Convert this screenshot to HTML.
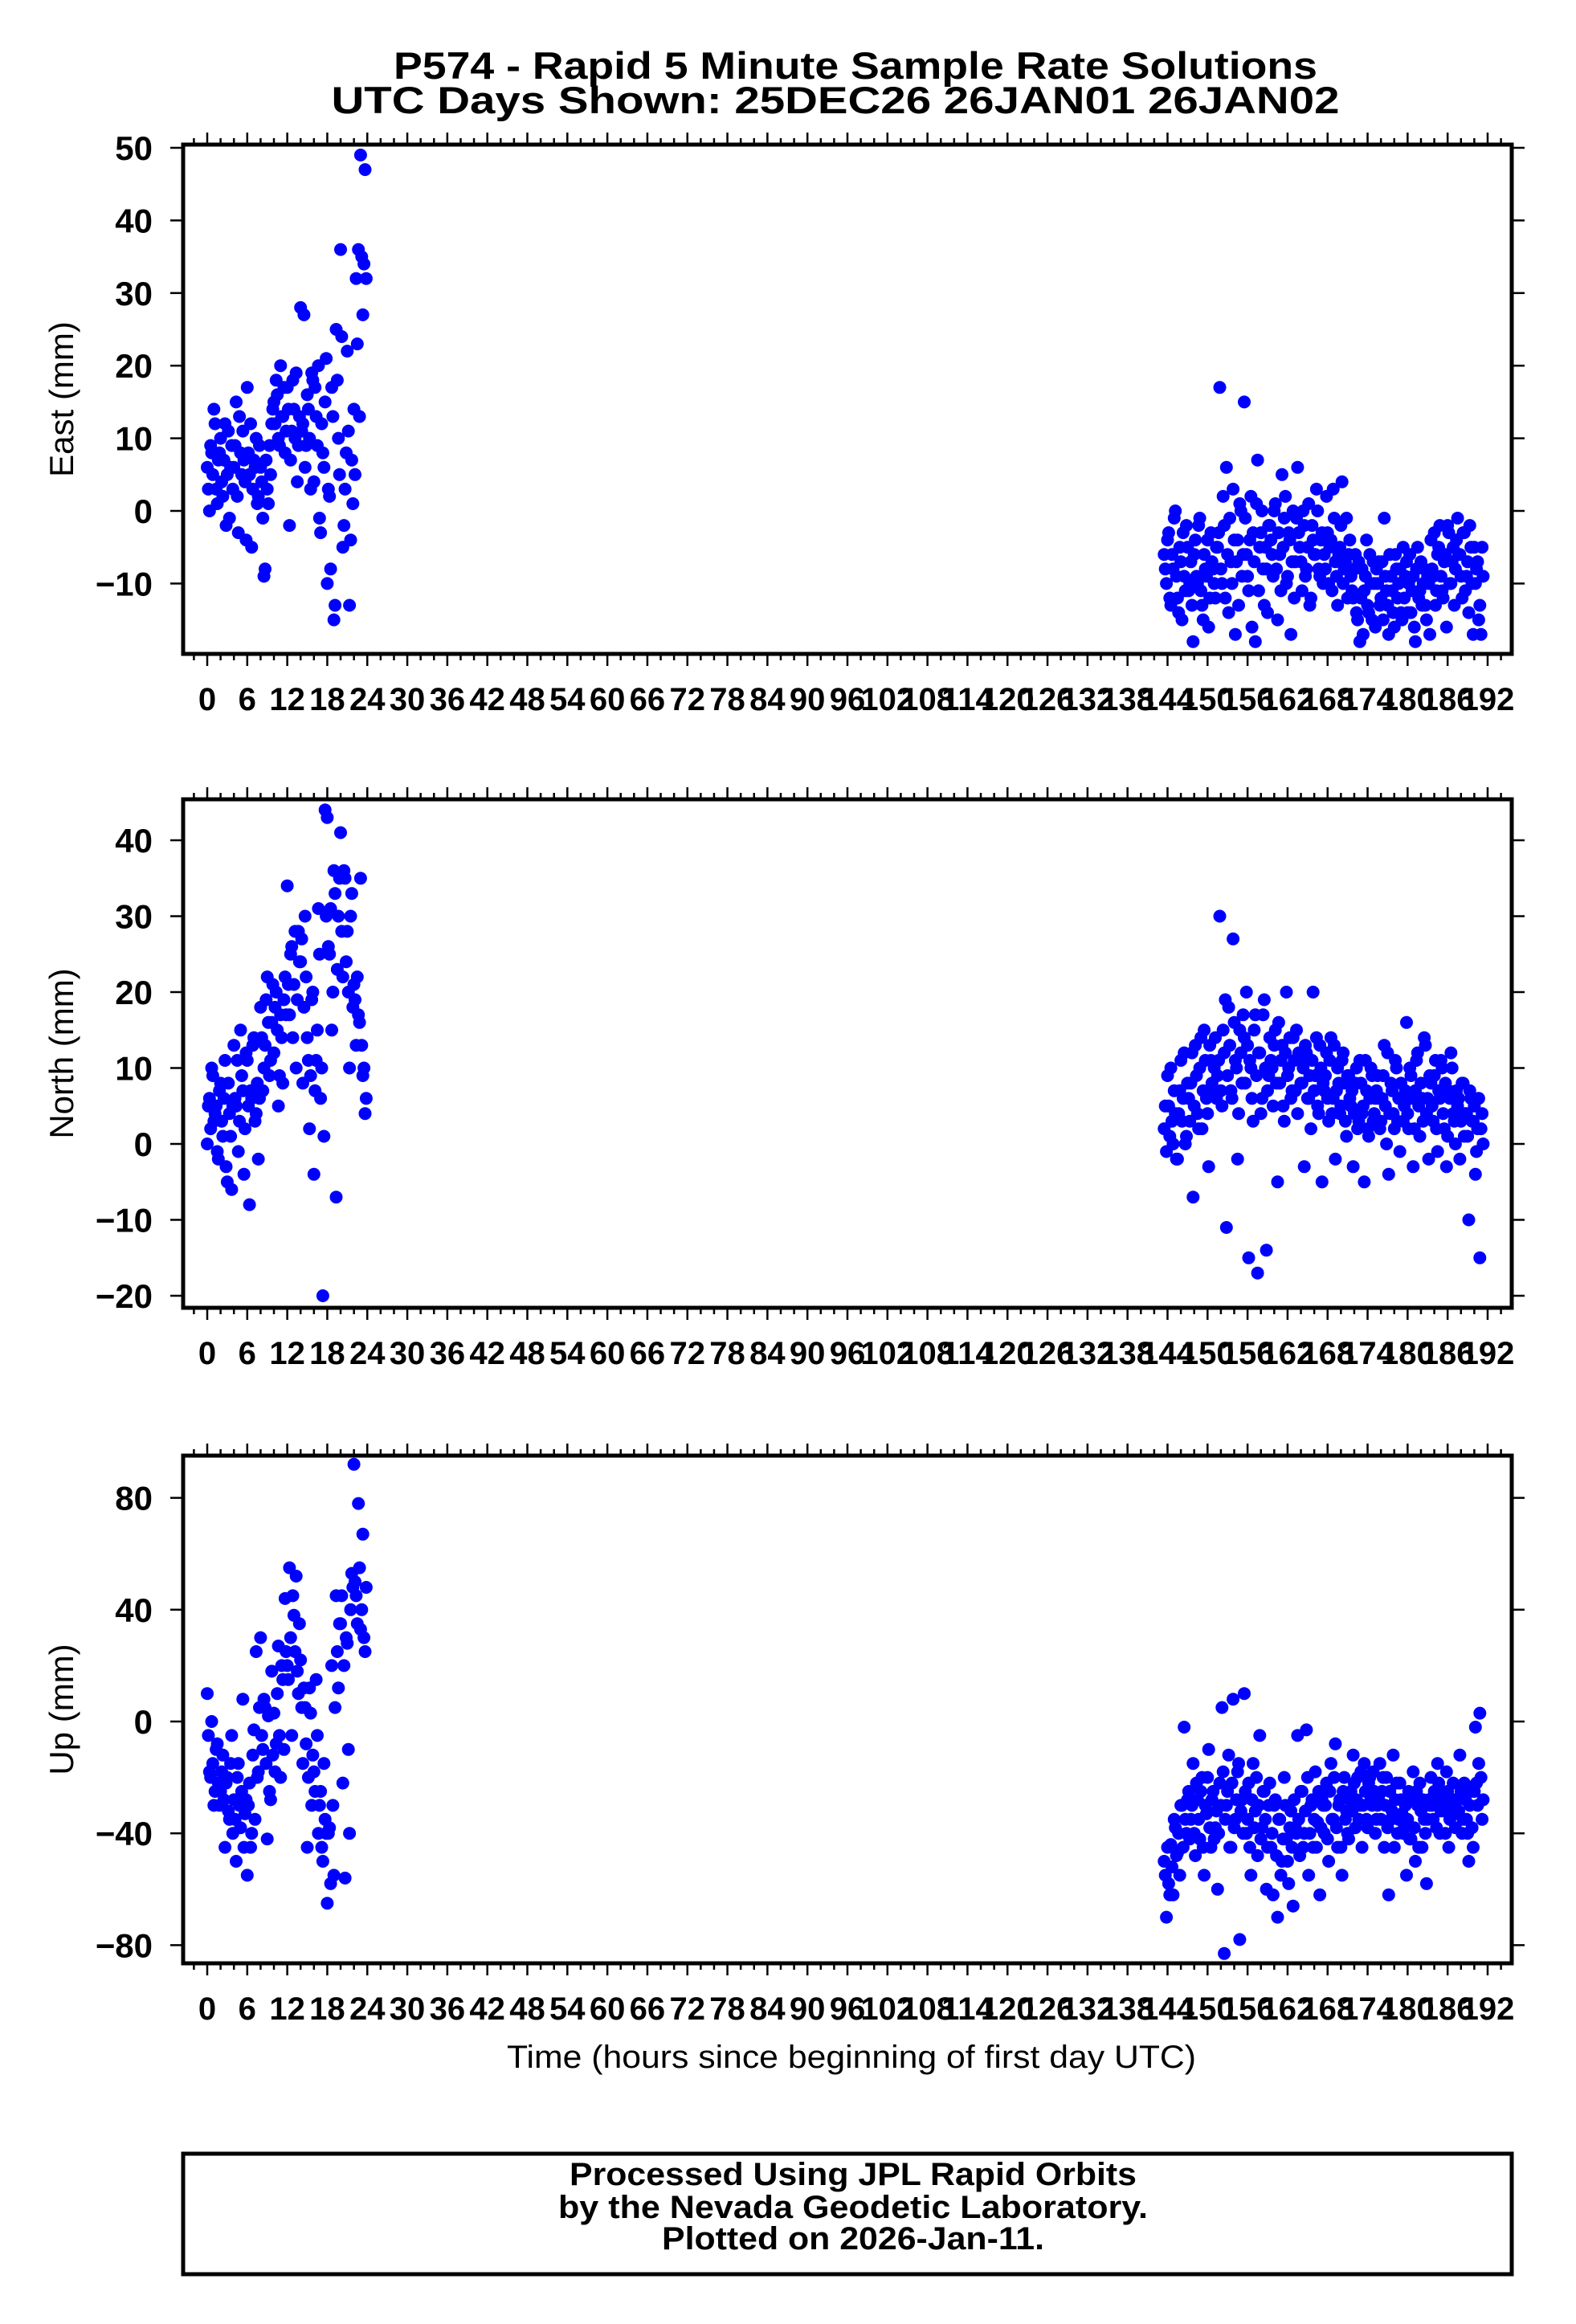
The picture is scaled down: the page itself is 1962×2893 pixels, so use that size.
<!DOCTYPE html>
<html><head><meta charset="utf-8">
<style>
html,body{margin:0;padding:0;background:#fff;}
svg{display:block;font-family:"Liberation Sans",Arial,sans-serif;}
</style></head>
<body>
<svg id="chart" width="1962" height="2893" viewBox="0 0 1962 2893" xmlns="http://www.w3.org/2000/svg">
<rect x="0" y="0" width="1962" height="2893" fill="#fff"/>
<text x="1065" y="98" font-size="47" font-weight="bold" text-anchor="middle" textLength="1150" lengthAdjust="spacingAndGlyphs">P574 - Rapid 5 Minute Sample Rate Solutions</text>
<text x="1040" y="141" font-size="47" font-weight="bold" text-anchor="middle" textLength="1255" lengthAdjust="spacingAndGlyphs">UTC Days Shown:  25DEC26 26JAN01 26JAN02</text>
<text x="1060" y="2574" font-size="40" text-anchor="middle" textLength="858" lengthAdjust="spacingAndGlyphs">Time (hours since beginning of first day UTC)</text>
<rect x="228" y="2681" width="1654" height="150" fill="none" stroke="#000" stroke-width="5"/>
<text x="1062" y="2720" font-size="40" font-weight="bold" text-anchor="middle" textLength="706" lengthAdjust="spacingAndGlyphs">Processed Using JPL Rapid Orbits</text>
<text x="1062" y="2761" font-size="40" font-weight="bold" text-anchor="middle" textLength="734" lengthAdjust="spacingAndGlyphs">by the Nevada Geodetic Laboratory.</text>
<text x="1062" y="2800" font-size="40" font-weight="bold" text-anchor="middle" textLength="476" lengthAdjust="spacingAndGlyphs">Plotted on 2026-Jan-11.</text>
</svg>
<script>
// ---- data ----
const stepHours = 1/3;
const offsetB = 1/6;
const cluster1Start = 0;
const cluster2Start = 143.5;
const xTickLabels = [0,6,12,18,24,30,36,42,48,54,60,66,72,78,84,90,96,102,108,114,120,126,132,138,144,150,156,162,168,174,180,186,192];
const eastTicks = [-10,0,10,20,30,40,50];
const northTicks = [-20,-10,0,10,20,30,40];
const upTicks = [-80,-40,0,40,80];

const east1 = [6,0,8,14,3,7, 10,2,12,5,-1,9, 6,15,-3,8,11,4, 17,5,-5,7,10,2, 6,-1,-8,3,9,12, 15,18,10,20,13,8, 17,-2,11,14,19,9, 28,12,6,16,10,19, 4,13,20,-3,8,15, -10,2,17,-15,25,10, 36,-5,3,22,-13,7, 14,32,36,49,27,47];
const east1b = [3,9,5,12,1,8, 4,7,-2,11,6,3, 9,2,13,5,7,-4, 8,12,3,6,1,9, 4,-9,7,1,5,14, 12,16,9,13,17,11, 14,7,18,10,4,13, 11,27,9,14,3,18, 17,9,-1,12,6,21, 3,-8,13,-13,18,5, 24,-2,8,11,-4,1, 5,23,13,35,34,32];
const east2 = [-6,-10,-3,-13,-8,0,-12,-5,-15,-9,-2,-11, -7,-18,-4,-10,-1,-13,-6,-9,-16,-3,-8,-12, -5,17,-10,-2,6,-14,-7,3,-17,-4,1,-9, 15,-6,-11,2,-3,-18,7,-5,0,-13,-8,-2, -4,-9,1,-15,-6,5,-1,-10,-3,-17,0,-7, 6,-5,-11,-2,-8,1,-12,-4,-6,0,-9,-3, -6,2,-10,-4,3,-7,-13,-5,4,-8,-1,-6, -9,-12,-6,-15,-18,-8,-11,-4,-14,-10,-7,-16, -10,-13,-7,-1,-11,-17,-9,-14,-6,-12,-8,-15, -12,-7,-10,-14,-9,-18,-5,-11,-13,-8,-15,-10, -4,-9,-13,-6,-2,-11,-7,-16,-3,-10,-5,-8, -1,-6,-12,-3,-9,-14,-5,-17,-10,-7,-13,-5];
const east2b = [-8,-4,-12,-6,-1,-9,-14,-7,-3,-11,-5,-10, -13,-6,-9,-2,-11,-15,-8,-4,-12,-7,-10,-5, -3,-8,2,-12,-6,-1,-10,-4,-7,-13,0,-6, -1,-9,-4,-16,-7,1,-11,-3,-8,-5,-14,-2, -6,0,-8,-3,-11,-5,2,-9,-4,-7,-12,-1, -3,-7,0,-9,-5,-13,-2,-6,3,-8,-4,-10, -8,-3,-5,-11,-1,-9,-6,-2,-10,-7,-12,-4, -11,-8,-14,-7,-12,-17,-9,-13,-6,-15,-10,-8, -7,-12,-15,-9,-13,-6,-11,-16,-8,-10,-14,-5, -9,-14,-6,-11,-16,-8,-12,-7,-10,-13,-9,-17, -8,-3,-11,-5,-9,-12,-6,-2,-10,-7,-13,-4, -6,-9,-3,-11,-7,-2,-10,-5,-8,-15,-17,-9];
const north1 = [0,6,10,3,5,-2, 8,1,11,-5,4,-6, 13,5,-1,15,7,2, 11,-8,6,14,4,-2, 18,7,13,22,9,16, 12,20,5,17,8,22, 34,17,26,21,10,28, 24,8,30,14,2,19, -4,11,31,6,-20,44, 43,25,15,36,-7,30, 41,22,35,28,10,33, 21,13,17,35,9,4];
const north1b = [5,2,9,4,-1,7, 3,6,-3,8,1,5, 6,11,3,9,-4,12, 5,7,13,3,8,6, 14,10,19,16,11,21, 18,15,9,14,19,17, 21,25,14,28,19,24, 27,18,22,11,9,20, 7,15,25,10,1,30, 26,31,20,33,23,35, 28,36,24,20,30,18, 19,22,16,13,10,6];
const north2 = [2,-1,5,10,0,4,-2,7,3,12,1,6, 8,-7,13,4,10,2,15,6,-3,11,7,14, 9,30,5,12,-11,18,7,27,11,-2,15,8, 14,20,-15,10,3,17,-17,12,6,19,-14,9, 11,5,15,-5,8,13,3,20,10,6,14,7, 4,11,8,-3,12,6,2,20,9,5,13,-5, 7,12,3,14,6,-2,10,4,11,8,1,9, 5,-3,8,2,11,4,-5,7,1,10,3,6, 9,2,6,13,0,-4,8,4,11,3,-1,6, 5,16,2,9,-3,7,12,1,6,14,4,-2, 8,3,11,-1,6,10,2,-3,7,12,4,0, 5,-2,8,1,4,-10,6,3,-4,2,-15,4];
const north2b = [5,9,1,3,7,-2,4,11,6,0,8,3, 12,5,9,2,14,7,11,4,13,8,10,6, 11,7,15,19,9,13,6,16,10,4,12,17, 8,13,11,6,15,9,12,4,17,10,7,14, 10,13,8,16,11,5,12,9,14,7,11,15, 12,8,10,13,6,9,11,7,14,4,10,8, 9,6,11,4,13,7,8,5,12,3,9,6, 7,4,10,3,8,5,11,2,6,9,4,7, 6,3,9,5,12,4,7,2,10,6,8,3, 7,4,10,6,2,11,5,8,3,13,6,9, 5,9,2,7,11,4,8,1,6,10,3,7, 6,3,8,4,1,7,3,5,-1,6,2,0];
const up1 = [10,-18,0,-30,-10,-22, -25,-12,-45,-20,-35,-5, -28,-50,-15,-38,8,-33, -55,-22,-40,-3,25,-18, 30,-10,5,-42,-25,18, 3,-8,27,-20,15,44, 20,55,-5,38,52,10, 22,-15,5,-45,12,-30, -18,15,-40,-25,-50,-35, -65,-38,20,-55,45,12, 35,-22,-56,28,-40,53, 92,45,78,33,67,25];
const up1b = [-5,-20,-15,-25,-8,-30, -18,-28,-22,-32,-15,-40, -35,-20,-30,-25,-45,-28, -30,-45,-12,-35,-20,5, -5,8,-15,2,-28,-12, -18,10,-5,20,-10,25, 15,30,45,25,18,35, 5,12,-8,-20,3,-12, -25,-5,-30,-45,-15,-40, -40,-58,-30,5,25,35, 45,20,30,-10,40,48, 50,35,55,40,30,48];
const up2 = [-50,-70,-58,-44,-62,-38,-47,-55,-30,-2,-40,-25, -35,-15,-48,-28,-42,-20,-55,-33,-10,-45,-25,-38, -60,-22,5,-83,-30,-12,-45,8,-35,-18,-78,-28, 10,-40,-22,-55,-15,-32,-48,-5,-38,-25,-60,-30, -45,-62,-28,-70,-35,-50,-20,-42,-58,-32,-66,-38, -5,-48,-25,-40,-3,-55,-30,-45,-18,-36,-62,-28, -40,-22,-50,-15,-35,-8,-45,-28,-55,-20,-32,-42, -25,-12,-38,-20,-30,-45,-15,-35,-22,-28,-18,-40, -30,-15,-25,-45,-20,-62,-35,-12,-28,-40,-22,-33, -38,-55,-25,-42,-18,-50,-30,-22,-45,-35,-58,-28, -20,-35,-28,-15,-40,-25,-32,-18,-45,-30,-22,-38, -28,-12,-40,-22,-35,-50,-25,-45,-2,-30,3,-35];
const up2b = [-55,-45,-62,-52,-35,-48,-40,-30,-45,-35,-28,-42, -30,-40,-22,-35,-25,-45,-30,-20,-38,-28,-42,-32, -40,-30,-18,-35,-25,-45,-22,-38,-28,-15,-32,-40, -25,-35,-45,-28,-38,-20,-30,-42,-25,-35,-45,-22, -40,-30,-48,-35,-55,-42,-30,-50,-38,-45,-28,-40, -35,-25,-45,-32,-20,-40,-28,-35,-45,-25,-38,-30, -30,-42,-25,-35,-20,-38,-30,-45,-25,-35,-40,-28, -32,-22,-28,-35,-18,-30,-25,-38,-20,-30,-25,-35, -28,-35,-20,-30,-38,-25,-32,-45,-22,-35,-28,-40, -30,-35,-42,-28,-38,-25,-45,-32,-28,-40,-35,-30, -30,-25,-38,-22,-32,-28,-40,-25,-35,-30,-28,-33, -32,-25,-35,-28,-40,-30,-38,-25,-22,-15,-20,-28];

// ---- layout ----
const NS = "http://www.w3.org/2000/svg";
const svg = document.getElementById('chart');
const FL = 228, FR = 1882;
function xScale(h){ return 258 + h*8.302; }
function mk(tag, attrs, parent){
  const e = document.createElementNS(NS, tag);
  for (const k in attrs) e.setAttribute(k, attrs[k]);
  (parent||svg).appendChild(e);
  return e;
}
const panels = [
  {name:'east', title:'East (mm)', top:180, bot:814, y0:184, v0:50, ppu:9.04, ticks:eastTicks, series:[[east1,cluster1Start],[east1b,cluster1Start+offsetB],[east2,cluster2Start],[east2b,cluster2Start+offsetB]]},
  {name:'north', title:'North (mm)', top:995, bot:1628, y0:1424, v0:0, ppu:9.45, ticks:northTicks, series:[[north1,cluster1Start],[north1b,cluster1Start+offsetB],[north2,cluster2Start],[north2b,cluster2Start+offsetB]]},
  {name:'up', title:'Up (mm)', top:1812, bot:2444, y0:2143, v0:0, ppu:3.48, ticks:upTicks, series:[[up1,cluster1Start],[up1b,cluster1Start+offsetB],[up2,cluster2Start],[up2b,cluster2Start+offsetB]]}
];
panels.forEach(p=>{
  const g = mk('g', {});
  
  
  const yScale = v => p.y0 + (p.v0 - v)*p.ppu;
  const pts = mk('g', {fill:'#0000ff'}, g);
  
  
  p.series.forEach(([arr, t0])=>{
    arr.forEach((v,i)=>{
      const c = mk('ellipse', {cx:xScale(t0 + i*stepHours).toFixed(1), cy:yScale(v).toFixed(1), rx:8, ry:8}, pts);
      
      
    });
  });
  const tk = mk('g', {stroke:'#000','stroke-width':2.5}, g);
  
  
  for (let h=-2; h<=194; h+=2){
    const len = (h%6===0) ? 15 : 8;
    const x = xScale(h);
    mk('line', {x1:x, x2:x, y1:p.bot, y2:p.bot+len}, tk);
    mk('line', {x1:x, x2:x, y1:p.top, y2:p.top-len}, tk);
  }
  xTickLabels.forEach(h=>{
    const t = mk('text', {x:xScale(h), y:p.bot+70, 'font-size':40, 'font-weight':'bold', 'text-anchor':'middle'}, g);
    
    
    t.textContent = h;
  });
  p.ticks.forEach(v=>{
    const y = yScale(v);
    mk('line', {x1:FL-16, x2:FL, y1:y, y2:y, stroke:'#000','stroke-width':2.5}, g);
    mk('line', {x1:FR, x2:FR+16, y1:y, y2:y, stroke:'#000','stroke-width':2.5}, g);
    const t = mk('text', {x:190, y:y+15, 'font-size':42, 'font-weight':'bold', 'text-anchor':'end'}, g);
    
    
    t.textContent = (v<0 ? '\u2212' + Math.abs(v) : String(v));
  });
  const fr = mk('rect', {x:FL, y:p.top, width:FR-FL, height:p.bot-p.top, fill:'none', stroke:'#000','stroke-width':5}, g);
  
  
  const cy = (p.top+p.bot)/2;
  const yt = mk('text', {x:0, y:0, 'font-size':42, 'text-anchor':'middle', transform:'translate(91,'+cy+') rotate(-90)'}, g);
  
  
  yt.textContent = p.title;
});
</script>
</body></html>
